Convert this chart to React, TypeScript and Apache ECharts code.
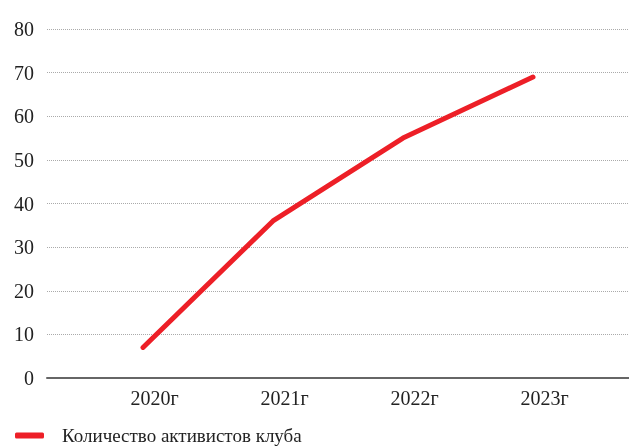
import React, { useEffect, useRef } from "react";
import * as echarts from "echarts";

const categories = ["2020г", "2021г", "2022г", "2023г"];
const activists = [7, 36, 55, 69];
const seriesName = "Количество активистов клуба";
const yMin = 0;
const yMax = 80;
const yStep = 10;

export default function App() {
  const ref = useRef<HTMLDivElement>(null);
  useEffect(() => {
    if (!ref.current) return;
    const chart = echarts.init(ref.current, undefined, { renderer: "svg" });
    const font = "'Liberation Serif', 'Times New Roman', serif";
    chart.setOption({
      animation: false,
      textStyle: { fontFamily: font },
      grid: [
        { left: 47, right: 0, top: 29, bottom: 68 },
        { left: 143, right: 96, top: 29, bottom: 68 },
      ],
      xAxis: [
        {
          gridIndex: 0,
          type: "category",
          data: categories,
          axisLine: { show: true, lineStyle: { color: "#666", width: 2 } },
          axisTick: { show: false },
          axisLabel: { show: false },
          splitLine: { show: false },
        },
        {
          gridIndex: 1,
          type: "category",
          boundaryGap: false,
          data: categories,
          axisLine: { show: false },
          axisTick: { show: false },
          axisLabel: {
            color: "#222",
            fontSize: 20,
            fontFamily: font,
            margin: 10,
            padding: [0, 0, 0, 23],
          },
          splitLine: { show: false },
        },
      ],
      yAxis: [
        {
          gridIndex: 0,
          type: "value",
          min: yMin,
          max: yMax,
          interval: yStep,
          axisLine: { show: false },
          axisTick: { show: false },
          axisLabel: { color: "#222", fontSize: 20, fontFamily: font, margin: 13 },
          splitLine: { show: true, lineStyle: { color: "#aaa", type: [1, 1], width: 1 } },
        },
        {
          gridIndex: 1,
          type: "value",
          min: yMin,
          max: yMax,
          interval: yStep,
          show: false,
          splitLine: { show: false },
        },
      ],
      legend: {
        left: 10,
        bottom: -4,
        itemWidth: 29,
        itemHeight: 6,
        icon: "roundRect",
        textStyle: { color: "#222", fontSize: 19, fontFamily: font, padding: [0, 0, 0, 13] },
        data: [seriesName],
      },
      series: [
        {
          name: seriesName,
          type: "line",
          xAxisIndex: 1,
          yAxisIndex: 1,
          data: activists,
          symbol: "none",
          lineStyle: { color: "#ed1f27", width: 5, cap: "round", join: "round" },
          itemStyle: { color: "#ed1f27" },
        },
      ],
    });
    return () => chart.dispose();
  }, []);
  return <div ref={ref} style={{ width: 629, height: 446, position: "fixed", left: 0, top: 0 }} />;
}
